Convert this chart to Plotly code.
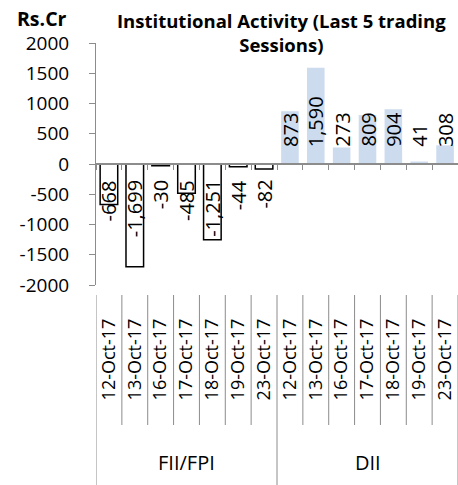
import plotly.graph_objects as go

groups = ["FII/FPI", "DII"]
dates = ["12-Oct-17", "13-Oct-17", "16-Oct-17", "17-Oct-17", "18-Oct-17", "19-Oct-17", "23-Oct-17"]
fii_values = [-668, -1699, -30, -485, -1251, -44, -82]
dii_values = [873, 1590, 273, 809, 904, 41, 308]
y_tick_vals = [2000, 1500, 1000, 500, 0, -500, -1000, -1500, -2000]
y_tick_text = ["2000", "1500", "1000", "500", "0", "-500", "-1000", "-1500", "-2000"]

FONT = "Open Sans"
GRAY = "#8c8c8c"
W, H = 458, 485
ML, MR, MT, MB = 96, 0, 43, 200
PH = H - MT - MB  # plot height in px
PW = W - ML - MR

fii_keys = [f"{groups[0]}|{d}" for d in dates]
dii_keys = [f"{groups[1]}|{d}" for d in dates]
all_keys = fii_keys + dii_keys
n = len(all_keys)

fig = go.Figure()
fig.add_trace(go.Bar(
    x=fii_keys, y=fii_values,
    marker=dict(color="white", line=dict(color="black", width=1.5)),
    showlegend=False, hoverinfo="skip"))
fig.add_trace(go.Bar(
    x=dii_keys, y=dii_values,
    marker=dict(color="#ccdbee", line=dict(width=0)),
    showlegend=False, hoverinfo="skip"))
# helper trace for the zero-line axis
fig.add_trace(go.Scatter(x=[0], y=[0], xaxis="x2", mode="markers",
                         marker=dict(opacity=0), showlegend=False, hoverinfo="skip"))

all_vals = fii_values + dii_values
for i, v in enumerate(all_vals):
    fig.add_annotation(
        x=i, y=0, xref="x2", yref="y", text=f"{v:,}", textangle=-90,
        showarrow=False, xanchor="center",
        yanchor="bottom" if v > 0 else "top",
        yshift=15 if v > 0 else -14,
        font=dict(family=FONT, size=20, color="black"))

def py(px):  # page pixel y -> paper coordinate
    return (H - MB - px) / PH

def pxx(px):  # page pixel x -> paper coordinate
    return (px - ML) / PW

# category separators below the plot
for i in range(n + 1):
    is_group_edge = (i % len(dates) == 0)
    fig.add_shape(type="line", xref="x2", yref="paper",
                  x0=i - 0.5, x1=i - 0.5, y0=py(295), y1=py(485 if is_group_edge else 425),
                  line=dict(color=GRAY, width=1))

# group labels
for g, grp in enumerate(groups):
    fig.add_annotation(x=g * len(dates) + (len(dates) - 1) / 2, y=py(462), xref="x2", yref="paper",
                       text=grp, showarrow=False, xanchor="center", yanchor="middle",
                       font=dict(family=FONT, size=20, color="black"))

fig.add_annotation(x=pxx(15), y=py(18), xref="paper", yref="paper",
                   text="<b>Rs.Cr</b>", showarrow=False, xanchor="left", yanchor="middle",
                   font=dict(family=FONT, size=19.5, color="black"))

fig.add_annotation(x=pxx(281), y=py(33), xref="paper", yref="paper",
                   text="<b>Institutional Activity (Last 5 trading<br>Sessions)</b>",
                   showarrow=False, xanchor="center", yanchor="middle",
                   font=dict(family=FONT, size=18.5, color="black"))

fig.update_layout(
    width=W, height=H,
    margin=dict(l=ML, r=MR, t=MT, b=MB, autoexpand=False),
    paper_bgcolor="white", plot_bgcolor="white",
    bargap=0.32, barmode="relative",
    font=dict(family=FONT, color="black"),
    xaxis=dict(type="category", categoryorder="array", categoryarray=all_keys,
               tickvals=all_keys, ticktext=dates + dates, tickangle=-90,
               ticks="", ticklabelstandoff=29, showline=False, showgrid=False,
               automargin=False,
               tickfont=dict(family=FONT, size=18, color="black"),
               range=[-0.5, n - 0.5]),
    xaxis2=dict(overlaying="x", anchor="free", position=0.5, range=[-0.5, n - 0.5],
                tick0=-0.5, dtick=1, ticks="outside", ticklen=5, tickcolor=GRAY,
                showticklabels=False, showgrid=False, zeroline=False,
                showline=True, linecolor=GRAY, linewidth=1.5),
    yaxis=dict(range=[-2000, 2000], tickvals=y_tick_vals, ticktext=y_tick_text,
               ticks="outside", ticklen=6, tickcolor=GRAY, showline=True,
               linecolor=GRAY, showgrid=False, zeroline=False, automargin=False,
               ticklabelstandoff=16,
               tickfont=dict(family=FONT, size=19, color="black")),
)
fig.write_html("out.html", config={"displayModeBar": False},
               post_script="document.body.style.margin='0';document.body.style.overflow='hidden';")
